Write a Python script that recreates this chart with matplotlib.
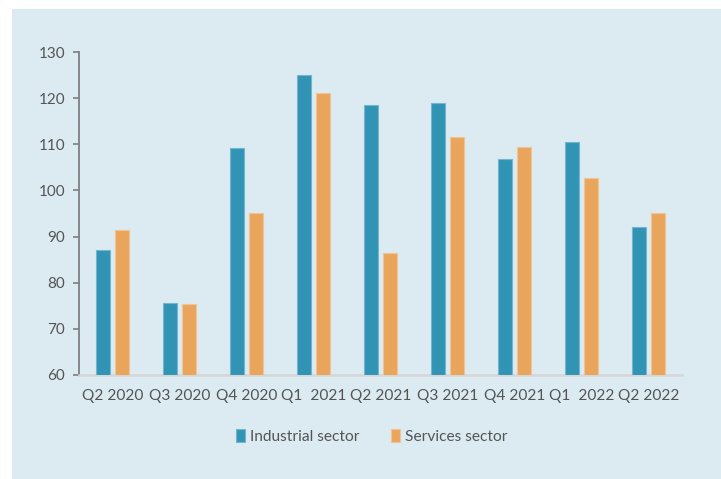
import matplotlib

matplotlib.use("Agg")
import matplotlib.pyplot as plt
import numpy as np
from matplotlib.patches import Rectangle

quarters = ["Q2 2020", "Q3 2020", "Q4 2020", "Q1  2021", "Q2 2021",
            "Q3 2021", "Q4 2021", "Q1  2022", "Q2 2022"]
industrial = [87.0, 75.6, 109.3, 125.1, 118.6, 119.0, 106.8, 110.5, 92.1]
services = [91.5, 75.3, 95.0, 121.1, 86.4, 111.6, 109.5, 102.7, 95.2]

BG = "#dceaf2"
IND = "#3194b4"
SERV = "#e8a55b"
TEXT = "#555555"

plt.rcParams["font.family"] = ["Lato", "DejaVu Sans"]

fig = plt.figure(figsize=(7.21, 4.79), dpi=100)
fig.patch.set_facecolor("white")
fig.add_artist(Rectangle((12 / 721, 0), 1, 1 - 9 / 479, transform=fig.transFigure,
                         facecolor=BG, edgecolor="none", zorder=-10))

ax = fig.add_axes([79 / 721, 1 - 375 / 479, (682 - 79) / 721, (375 - 52) / 479])
ax.set_facecolor("none")

x = np.arange(len(quarters))
w = 0.22
ax.bar(x - 0.143, [v - 60 for v in industrial], w, bottom=60, color=IND,
       edgecolor="#74b6cf", linewidth=0.8, label="Industrial sector", zorder=3)
ax.bar(x + 0.143, [v - 60 for v in services], w, bottom=60, color=SERV,
       edgecolor="#f2c493", linewidth=0.8, label="Services sector", zorder=3)

ax.set_xlim(-0.5, len(quarters) - 0.5)
ax.set_ylim(60, 130)
ax.set_yticks(range(60, 131, 10))
ax.set_xticks(x)
ax.set_xticklabels(quarters)

for side in ("top", "right"):
    ax.spines[side].set_visible(False)
ax.spines["left"].set_color("#7f7f7f")
ax.spines["left"].set_linewidth(1.3)
ax.spines["bottom"].set_color("#d6d6d6")
ax.spines["bottom"].set_linewidth(1.8)

ax.tick_params(axis="y", colors="#7f7f7f", length=4, width=1.2, labelsize=11,
               labelcolor=TEXT, pad=6)
ax.tick_params(axis="x", length=0, labelsize=11.2, labelcolor=TEXT, pad=10)

leg = ax.legend(loc="upper center", bbox_to_anchor=(0.485, -0.125), ncol=2,
                frameon=False, fontsize=11.2, handlelength=0.6, handleheight=0.9,
                handletextpad=0.3, columnspacing=2.0, labelcolor=TEXT)

fig.savefig("out.png", dpi=100, facecolor=fig.get_facecolor())
